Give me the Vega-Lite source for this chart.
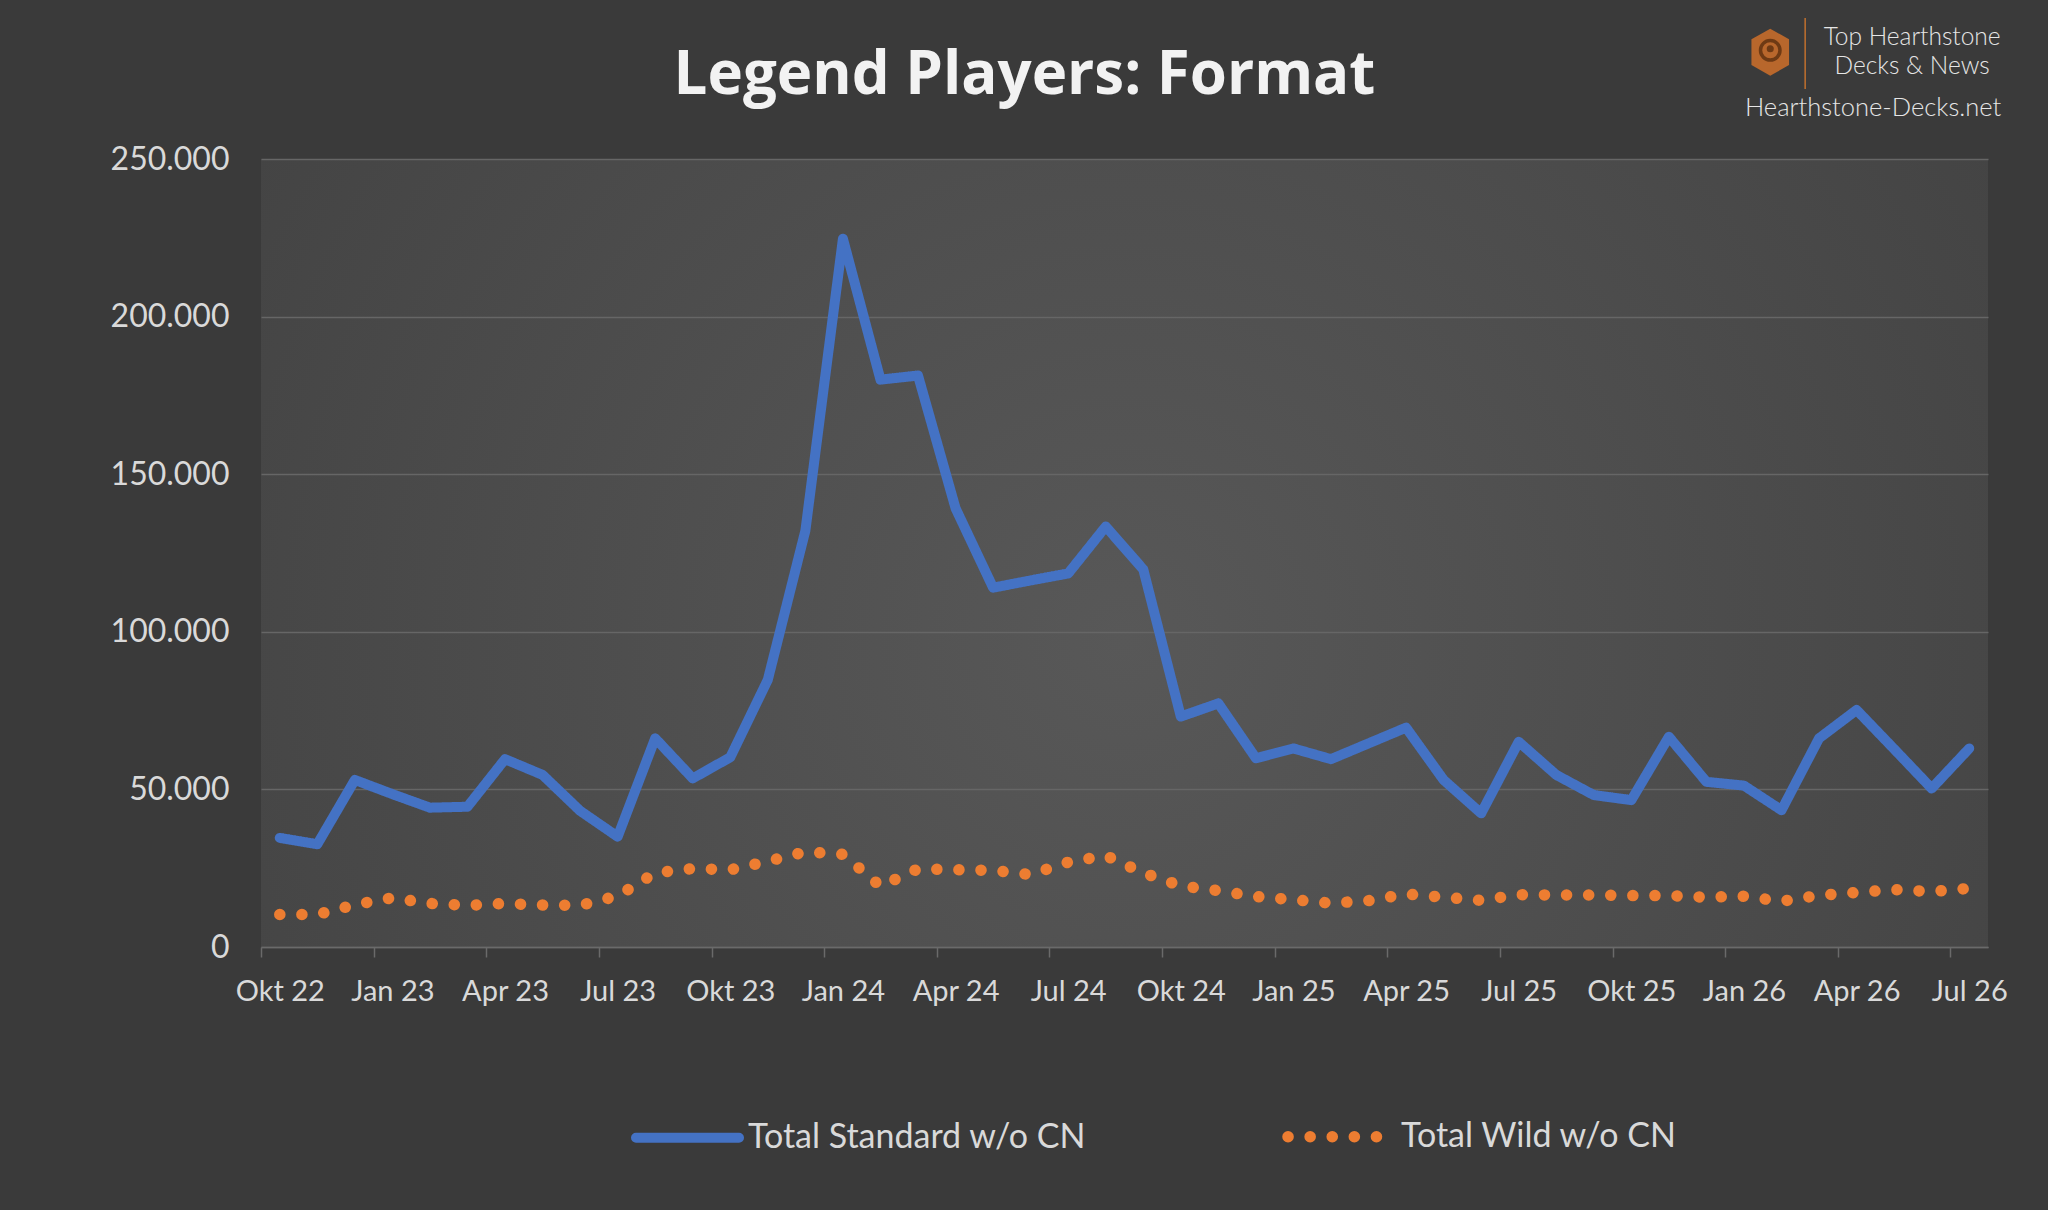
{
  "$schema": "https://vega.github.io/schema/vega-lite/v6.json",
  "autosize": {"type": "none"},
  "width": 1727,
  "height": 788,
  "padding": {"left": 261, "top": 159, "right": 60, "bottom": 263},
  "background": "#3a3a3a",
  "config": {
    "view": {
      "stroke": null,
      "fill": {"gradient": "radial", "x1": 0.5, "y1": 0.55, "r1": 0, "x2": 0.5, "y2": 0.55, "r2": 0.75,
        "stops": [{"offset": 0, "color": "#585858"}, {"offset": 1, "color": "#3e3e3e"}]}
    },
    "font": "Lato"
  },
  "title": {
    "text": "Legend Players: Format",
    "font": "Open Sans",
    "fontSize": 60,
    "fontWeight": "bold",
    "color": "#f2f2f2",
    "anchor": "middle",
    "frame": "group",
    "dx": -100,
    "baseline": "alphabetic",
    "offset": -137
  },
  "datasets": {
    "players": [
      {"m": 0, "month": "Okt 22", "Total Standard w/o CN": 34600, "Total Wild w/o CN": 10300},
      {"m": 1, "month": "Nov 22", "Total Standard w/o CN": 32600, "Total Wild w/o CN": 10300},
      {"m": 2, "month": "Dez 22", "Total Standard w/o CN": 53000, "Total Wild w/o CN": 13400},
      {"m": 3, "month": "Jan 23", "Total Standard w/o CN": 48500, "Total Wild w/o CN": 15600},
      {"m": 4, "month": "Feb 23", "Total Standard w/o CN": 44200, "Total Wild w/o CN": 13800},
      {"m": 5, "month": "Mär 23", "Total Standard w/o CN": 44500, "Total Wild w/o CN": 13200},
      {"m": 6, "month": "Apr 23", "Total Standard w/o CN": 59600, "Total Wild w/o CN": 13800},
      {"m": 7, "month": "Mai 23", "Total Standard w/o CN": 54600, "Total Wild w/o CN": 13300},
      {"m": 8, "month": "Jun 23", "Total Standard w/o CN": 43200, "Total Wild w/o CN": 13200},
      {"m": 9, "month": "Jul 23", "Total Standard w/o CN": 35000, "Total Wild w/o CN": 16200},
      {"m": 10, "month": "Aug 23", "Total Standard w/o CN": 66200, "Total Wild w/o CN": 23500},
      {"m": 11, "month": "Sep 23", "Total Standard w/o CN": 53500, "Total Wild w/o CN": 24900},
      {"m": 12, "month": "Okt 23", "Total Standard w/o CN": 60200, "Total Wild w/o CN": 24500},
      {"m": 13, "month": "Nov 23", "Total Standard w/o CN": 84800, "Total Wild w/o CN": 27200},
      {"m": 14, "month": "Dez 23", "Total Standard w/o CN": 132100, "Total Wild w/o CN": 30200},
      {"m": 15, "month": "Jan 24", "Total Standard w/o CN": 224700, "Total Wild w/o CN": 29400},
      {"m": 16, "month": "Feb 24", "Total Standard w/o CN": 180000, "Total Wild w/o CN": 19300},
      {"m": 17, "month": "Mär 24", "Total Standard w/o CN": 181300, "Total Wild w/o CN": 24800},
      {"m": 18, "month": "Apr 24", "Total Standard w/o CN": 139200, "Total Wild w/o CN": 24500},
      {"m": 19, "month": "Mai 24", "Total Standard w/o CN": 114000, "Total Wild w/o CN": 24300},
      {"m": 20, "month": "Jun 24", "Total Standard w/o CN": 116300, "Total Wild w/o CN": 23000},
      {"m": 21, "month": "Jul 24", "Total Standard w/o CN": 118500, "Total Wild w/o CN": 26900},
      {"m": 22, "month": "Aug 24", "Total Standard w/o CN": 133400, "Total Wild w/o CN": 29000},
      {"m": 23, "month": "Sep 24", "Total Standard w/o CN": 119800, "Total Wild w/o CN": 23500},
      {"m": 24, "month": "Okt 24", "Total Standard w/o CN": 73100, "Total Wild w/o CN": 19400},
      {"m": 25, "month": "Nov 24", "Total Standard w/o CN": 77300, "Total Wild w/o CN": 17900},
      {"m": 26, "month": "Dez 24", "Total Standard w/o CN": 59900, "Total Wild w/o CN": 16000},
      {"m": 27, "month": "Jan 25", "Total Standard w/o CN": 63000, "Total Wild w/o CN": 15000},
      {"m": 28, "month": "Feb 25", "Total Standard w/o CN": 59600, "Total Wild w/o CN": 13900},
      {"m": 29, "month": "Mär 25", "Total Standard w/o CN": 64600, "Total Wild w/o CN": 14700},
      {"m": 30, "month": "Apr 25", "Total Standard w/o CN": 69600, "Total Wild w/o CN": 16800},
      {"m": 31, "month": "Mai 25", "Total Standard w/o CN": 53000, "Total Wild w/o CN": 15800},
      {"m": 32, "month": "Jun 25", "Total Standard w/o CN": 42400, "Total Wild w/o CN": 14800},
      {"m": 33, "month": "Jul 25", "Total Standard w/o CN": 65100, "Total Wild w/o CN": 16600},
      {"m": 34, "month": "Aug 25", "Total Standard w/o CN": 54600, "Total Wild w/o CN": 16500},
      {"m": 35, "month": "Sep 25", "Total Standard w/o CN": 48200, "Total Wild w/o CN": 16500},
      {"m": 36, "month": "Okt 25", "Total Standard w/o CN": 46600, "Total Wild w/o CN": 16300},
      {"m": 37, "month": "Nov 25", "Total Standard w/o CN": 66700, "Total Wild w/o CN": 16300},
      {"m": 38, "month": "Dez 25", "Total Standard w/o CN": 52400, "Total Wild w/o CN": 15800},
      {"m": 39, "month": "Jan 26", "Total Standard w/o CN": 51200, "Total Wild w/o CN": 16100},
      {"m": 40, "month": "Feb 26", "Total Standard w/o CN": 43400, "Total Wild w/o CN": 14500},
      {"m": 41, "month": "Mär 26", "Total Standard w/o CN": 66200, "Total Wild w/o CN": 16400},
      {"m": 42, "month": "Apr 26", "Total Standard w/o CN": 75200, "Total Wild w/o CN": 17300},
      {"m": 43, "month": "Mai 26", "Total Standard w/o CN": 62800, "Total Wild w/o CN": 18200},
      {"m": 44, "month": "Jun 26", "Total Standard w/o CN": 50300, "Total Wild w/o CN": 17600},
      {"m": 45, "month": "Jul 26", "Total Standard w/o CN": 63000, "Total Wild w/o CN": 18600}
    ]
  },
  "layer": [
    {
      "data": {"name": "players"},
      "transform": [
        {"fold": ["Total Standard w/o CN", "Total Wild w/o CN"], "as": ["series", "value"]}
      ],
      "mark": {"type": "line", "strokeCap": "round", "strokeJoin": "round"},
      "encoding": {
        "x": {
          "field": "m", "type": "quantitative",
          "scale": {"domain": [-0.5, 45.5], "nice": false, "zero": false},
          "axis": {
            "title": null,
            "values": [-0.5, 2.5, 5.5, 8.5, 11.5, 14.5, 17.5, 20.5, 23.5, 26.5, 29.5, 32.5, 35.5, 38.5, 41.5, 44.5],
            "labelExpr": "['Okt 22','Jan 23','Apr 23','Jul 23','Okt 23','Jan 24','Apr 24','Jul 24','Okt 24','Jan 25','Apr 25','Jul 25','Okt 25','Jan 26','Apr 26','Jul 26'][round((datum.value + 0.5) / 3)]",
            "labelOffset": 18.77,
            "labelFlush": false,
            "labelOverlap": false,
            "labelFont": "Lato",
            "labelFontSize": 29,
            "labelColor": "#d9d9d9",
            "labelPadding": 20,
            "grid": false,
            "domainColor": "#6a6a6a",
            "domainWidth": 1.5,
            "tickColor": "#6a6a6a",
            "tickWidth": 1.5,
            "tickSize": 10
          }
        },
        "y": {
          "field": "value", "type": "quantitative",
          "scale": {"domain": [0, 250000], "nice": false},
          "axis": {
            "title": null,
            "values": [0, 50000, 100000, 150000, 200000, 250000],
            "labelExpr": "replace(format(datum.value, ','), ',', '.')",
            "labelFont": "Lato",
            "labelFontSize": 32,
            "labelColor": "#d9d9d9",
            "labelPadding": 32,
            "domain": false,
            "ticks": false,
            "grid": true,
            "gridColor": "#666666",
            "gridWidth": 1.5
          }
        },
        "color": {
          "field": "series", "type": "nominal",
          "scale": {"domain": ["Total Standard w/o CN", "Total Wild w/o CN"], "range": ["#4472C4", "#ED7D31"]},
          "legend": {
            "title": null,
            "orient": "none",
            "legendX": 370,
            "legendY": 920,
            "direction": "horizontal",
            "symbolType": "stroke",
            "symbolSize": 10609,
            "symbolStrokeWidth": 10,
            "labelFont": "Lato",
            "labelFontSize": 34,
            "labelColor": "#d9d9d9",
            "labelOffset": 4,
            "labelLimit": 600,
            "columnPadding": 178,
            "encoding": {"symbols": {"strokeCap": {"value": "round"}}}
          }
        },
        "strokeDash": {
          "field": "series", "type": "nominal",
          "scale": {"domain": ["Total Standard w/o CN", "Total Wild w/o CN"], "range": [[1, 0], [0.1, 22]]},
          "legend": null
        },
        "strokeWidth": {
          "field": "series", "type": "nominal",
          "scale": {"domain": ["Total Standard w/o CN", "Total Wild w/o CN"], "range": [10, 11.5]},
          "legend": null
        }
      }
    },
    {
      "data": {"values": [{}]},
      "mark": {"type": "point", "shape": "M0,-1L0.8,-0.55L0.8,0.55L0,1L-0.8,0.55L-0.8,-0.55Z", "filled": true, "fill": "#b8672c", "opacity": 1, "size": 2209},
      "encoding": {"x": {"datum": 39.7, "type": "quantitative"}, "y": {"datum": 283900, "type": "quantitative"}}
    },
    {
      "data": {"values": [{}]},
      "mark": {"type": "point", "shape": "circle", "filled": false, "stroke": "#6e3a14", "strokeWidth": 3.5, "opacity": 1, "size": 380},
      "encoding": {"x": {"datum": 39.7, "type": "quantitative"}, "y": {"datum": 284500, "type": "quantitative"}}
    },
    {
      "data": {"values": [{}]},
      "mark": {"type": "point", "shape": "circle", "filled": true, "fill": "#6e3a14", "opacity": 1, "size": 50},
      "encoding": {"x": {"datum": 39.7, "type": "quantitative"}, "y": {"datum": 285000, "type": "quantitative"}}
    },
    {
      "data": {"values": [{}]},
      "mark": {"type": "rule", "color": "#c0702e", "strokeWidth": 1.5},
      "encoding": {"x": {"datum": 40.63, "type": "quantitative"}, "y": {"datum": 294700, "type": "quantitative"}, "y2": {"datum": 272200}}
    },
    {
      "data": {"values": [{}]},
      "mark": {"type": "text", "text": "Top Hearthstone", "font": "Lato", "fontWeight": 300, "fontSize": 24.5, "color": "#e6e6e6", "align": "center", "baseline": "middle"},
      "encoding": {"x": {"datum": 43.48, "type": "quantitative"}, "y": {"datum": 288500, "type": "quantitative"}}
    },
    {
      "data": {"values": [{}]},
      "mark": {"type": "text", "text": "Decks & News", "font": "Lato", "fontWeight": 300, "fontSize": 24.5, "color": "#e6e6e6", "align": "center", "baseline": "middle"},
      "encoding": {"x": {"datum": 43.48, "type": "quantitative"}, "y": {"datum": 279300, "type": "quantitative"}}
    },
    {
      "data": {"values": [{}]},
      "mark": {"type": "text", "text": "Hearthstone-Decks.net", "font": "Lato", "fontWeight": 300, "fontSize": 25.5, "color": "#e6e6e6", "align": "center", "baseline": "middle"},
      "encoding": {"x": {"datum": 42.44, "type": "quantitative"}, "y": {"datum": 266200, "type": "quantitative"}}
    }
  ]
}
